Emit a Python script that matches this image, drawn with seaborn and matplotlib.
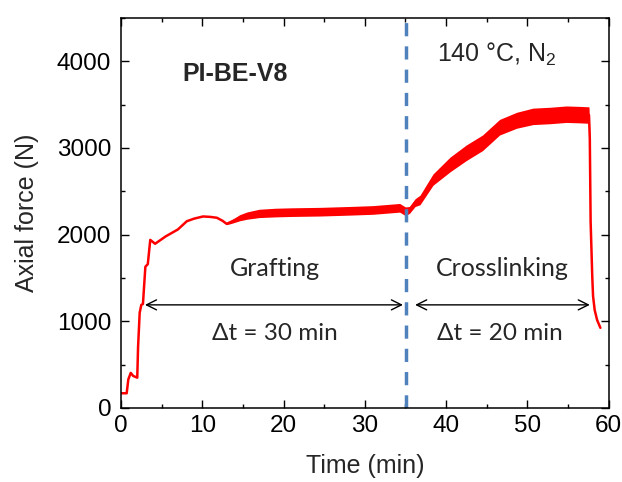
import numpy as np
import pandas as pd
import seaborn as sns
import matplotlib
matplotlib.use("Agg")
import matplotlib.pyplot as plt
from matplotlib.ticker import MultipleLocator

# ---- data ----
time_min = [0, 0.7, 0.9, 1.2, 1.5, 2.0, 2.1, 2.3, 2.5, 2.7,
            3.0, 3.3, 3.6, 4.2, 5.5, 7.0, 8.1, 9.0, 10.1, 11.0,
            11.8, 12.5, 13.0, 13.6, 14.6, 15.5, 17.0, 19.0, 21.0, 24.5,
            28.0, 31.0, 34.3, 35.0, 35.5, 36.2, 36.8, 38.4, 40.5, 42.5,
            44.5, 46.6, 48.7, 50.7, 52.8, 54.8, 56.5, 57.6, 57.7, 57.8,
            58.0, 58.1, 58.3, 58.6, 59.0]
force_N = [170, 170, 330, 405, 370, 350, 700, 1100, 1190, 1200,
           1630, 1660, 1940, 1895, 1980, 2060, 2155, 2185, 2210, 2205,
           2195, 2160, 2125, 2150, 2195, 2220, 2245, 2255, 2260, 2265,
           2275, 2285, 2310, 2270, 2285, 2370, 2400, 2635, 2810, 2945,
           3060, 3240, 3320, 3365, 3375, 3390, 3385, 3380, 3100, 2150,
           1520, 1290, 1130, 1015, 925]
# half-width of the noisy band around the trace
band_half_N = [0] * 21 + [5, 10, 20, 35, 42, 48, 50, 50, 50, 50,
                          50, 50, 50, 40, 45, 55, 65, 85, 90, 90,
                          90, 92, 95, 95, 95, 95, 95, 85, 0, 0,
                          0, 0, 0, 0]

x_ticks = [0, 10, 20, 30, 40, 50, 60]
y_ticks = [0, 1000, 2000, 3000, 4000]
step_change_min = 35.05
grafting_span = (2.95, 34.7)
crosslink_span = (36.2, 57.7)
arrow_level_N = 1190
sample_name = "PI-BE-V8"
condition_text = "140 °C, N$_2$"
phase_labels = ["Grafting", "Crosslinking"]
duration_labels = ["Δt = 30 min", "Δt = 20 min"]

df = pd.DataFrame({"t": time_min, "F": force_N, "h": band_half_N})

# ---- style ----
sns.set_style("ticks")
plt.rcParams["font.family"] = ["Liberation Sans", "DejaVu Sans"]
plt.rcParams["mathtext.fontset"] = "custom"
plt.rcParams["mathtext.rm"] = "Liberation Sans"
plt.rcParams["mathtext.default"] = "regular"

fig = plt.figure(figsize=(6.22, 4.82), dpi=100)
ax = fig.add_axes([121 / 622, 1 - 408 / 482, (608.5 - 121) / 622, (408 - 18) / 482])

ax.fill_between(df["t"], df["F"] - df["h"], df["F"] + df["h"],
                color="#ff0000", linewidth=0)
sns.lineplot(data=df, x="t", y="F", color="#ff0000", linewidth=1.8,
             sort=False, ax=ax)

ax.axvline(step_change_min, color="#4f81bd", linewidth=2.5,
           dashes=(3.8, 2.9))

ax.set_xlim(0, 60)
ax.set_ylim(0, 4500)
ax.set_xticks(x_ticks)
ax.set_yticks(y_ticks)
ax.xaxis.set_minor_locator(MultipleLocator(5))
ax.yaxis.set_minor_locator(MultipleLocator(500))
ax.tick_params(which="both", direction="in", top=True, right=True,
               width=1, colors="black")
ax.tick_params(which="major", length=6)
ax.tick_params(which="minor", length=3)
ax.tick_params(axis="x", which="major", labelsize=17.5, pad=5)
ax.tick_params(axis="y", which="major", labelsize=17.5, pad=7)
for s in ax.spines.values():
    s.set_linewidth(1.1)
    s.set_color("black")

ax.set_xlabel("Time (min)", fontsize=18, labelpad=12)
ax.set_ylabel("Axial force (N)", fontsize=18, labelpad=13)

ax.text(14.0, 3772, sample_name, fontsize=18, fontweight="bold",
        ha="center", va="baseline")
ax.text(38.9, 3990, condition_text, fontsize=18, ha="left", va="baseline")

calib = ["Lato", "DejaVu Sans"]
ax.text(18.9, 1526, phase_labels[0], fontsize=18, ha="center",
        va="baseline", family=calib)
ax.text(46.9, 1526, phase_labels[1], fontsize=18, ha="center",
        va="baseline", family=calib)
ax.text(18.9, 786, duration_labels[0], fontsize=17.5, ha="center",
        va="baseline", family=calib)
ax.text(46.6, 786, duration_labels[1], fontsize=17.5, ha="center",
        va="baseline", family=calib)

for a, b in (grafting_span, crosslink_span):
    ax.annotate("", xy=(b, arrow_level_N), xytext=(a, arrow_level_N),
                arrowprops=dict(arrowstyle="<->", color="black", lw=1,
                                mutation_scale=18, shrinkA=0, shrinkB=0))

fig.savefig("out.png", dpi=100)
